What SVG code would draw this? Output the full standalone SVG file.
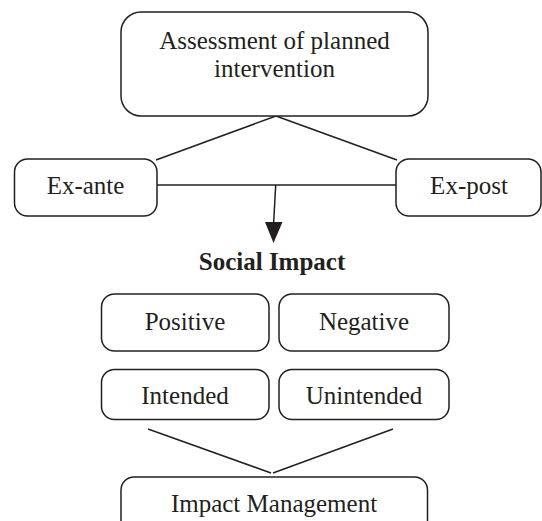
<svg xmlns="http://www.w3.org/2000/svg" width="542" height="521" viewBox="0 0 542 521">
<style>
.box{fill:#fff;stroke:#231f20;stroke-width:1.5}
.ln{stroke:#231f20;stroke-width:1.5;fill:none}
text{font-family:"Liberation Serif","Times New Roman",serif;font-size:25px;fill:#231f20;text-anchor:middle}
.b{font-weight:bold}
</style>
<rect width="542" height="521" fill="#fff"/>
<g id="connectors">
<line class="ln" x1="276" y1="116" x2="156" y2="160"/>
<line class="ln" x1="276" y1="116" x2="397" y2="160"/>
<line class="ln" x1="157" y1="185" x2="396" y2="185"/>
<line class="ln" x1="275.7" y1="185" x2="273.6" y2="224"/>
<polygon points="265,222 282.5,222 273.5,243" fill="#231f20"/>
<line class="ln" x1="148" y1="429" x2="271" y2="473"/>
<line class="ln" x1="393" y1="429" x2="273" y2="473"/>
</g>
<g id="assessment">
<rect class="box" x="121" y="12" width="307" height="104" rx="20"/>
<text x="274.5" y="49">Assessment of planned</text>
<text x="274.5" y="77">intervention</text>
</g>
<g id="exante">
<rect class="box" x="14.5" y="159" width="142.5" height="57" rx="13"/>
<text x="85.5" y="194">Ex-ante</text>
</g>
<g id="expost">
<rect class="box" x="396" y="159" width="145" height="57" rx="13"/>
<text x="469" y="194">Ex-post</text>
</g>
<g id="social">
<text class="b" x="272" y="270">Social Impact</text>
</g>
<g id="positive">
<rect class="box" x="101.5" y="294" width="167.5" height="57" rx="13"/>
<text x="185" y="330">Positive</text>
</g>
<g id="negative">
<rect class="box" x="279" y="294" width="170" height="57" rx="13"/>
<text x="364" y="330">Negative</text>
</g>
<g id="intended">
<rect class="box" x="101.5" y="369.5" width="167.5" height="50" rx="13"/>
<text x="185" y="404">Intended</text>
</g>
<g id="unintended">
<rect class="box" x="279" y="369.5" width="170" height="50" rx="13"/>
<text x="364" y="404">Unintended</text>
</g>
<g id="management">
<rect class="box" x="121" y="477" width="306.5" height="70" rx="13"/>
<text x="274" y="512">Impact Management</text>
</g>
</svg>
